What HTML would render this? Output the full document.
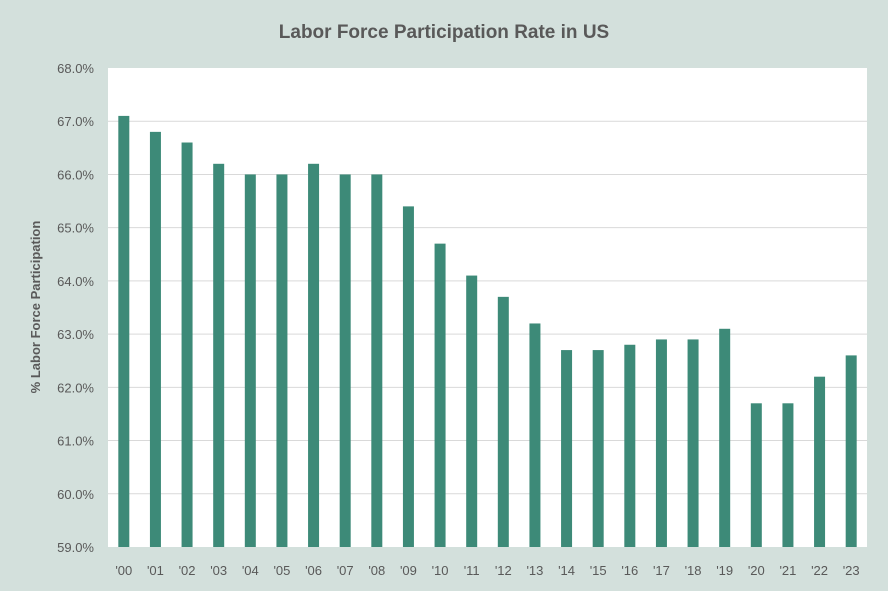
<!DOCTYPE html>
<html><head><meta charset="utf-8"><style>
body{margin:0;background:#d3e0dc;}
svg{display:block;font-family:"Liberation Sans",sans-serif;}
</style></head><body>
<svg id="c" width="888" height="591">
<rect width="888" height="591" fill="#d3e0dc"/>
<text x="444" y="38" text-anchor="middle" font-size="19" font-weight="bold" fill="#595959">Labor Force Participation Rate in US</text>
<rect x="108" y="68" width="759" height="479" fill="#fff"/>
<text transform="translate(40,307) rotate(-90)" text-anchor="middle" font-size="13" font-weight="bold" fill="#595959">% Labor Force Participation</text>
<g id="grid"></g><g id="bars"></g><g id="yt"></g><g id="xt"></g>
</svg>
<script>
const categories=["'00","'01","'02","'03","'04","'05","'06","'07","'08","'09","'10","'11","'12","'13","'14","'15","'16","'17","'18","'19","'20","'21","'22","'23"];
const values=[67.1,66.8,66.6,66.2,66.0,66.0,66.2,66.0,66.0,65.4,64.7,64.1,63.7,63.2,62.7,62.7,62.8,62.9,62.9,63.1,61.7,61.7,62.2,62.6];
const yTicks=[59,60,61,62,63,64,65,66,67,68];
const L=108,R=867,T=68,B=547,yMin=59,yMax=68;
const y=v=>B-(v-yMin)/(yMax-yMin)*(B-T);
const band=(R-L)/categories.length;
const x=i=>L+band*(i+0.5);
const NS="http://www.w3.org/2000/svg";
function mk(t,a,p){const e=document.createElementNS(NS,t);for(const k in a)e.setAttribute(k,a[k]);document.getElementById(p).appendChild(e);return e;}
yTicks.forEach(t=>{
  if(t>yMin&&t<yMax){const g=mk('line',{x1:L,x2:R,y1:y(t),y2:y(t),stroke:'#d9d9d9','stroke-width':1},'grid');
  
  }
  const e=mk('text',{x:94,y:y(t)+5,'text-anchor':'end','font-size':13,fill:'#595959'},'yt');
  e.textContent=t.toFixed(1)+'%';
  
  
});
values.forEach((v,i)=>{
  const b=mk('rect',{x:x(i)-5.5,width:11,y:y(v),height:B-y(v),fill:'#3d8a78'},'bars');
  
  
  const t=mk('text',{x:x(i),y:575,'text-anchor':'middle','font-size':13,fill:'#595959'},'xt');
  t.textContent=categories[i];
  
  
});
</script>
</body></html>
